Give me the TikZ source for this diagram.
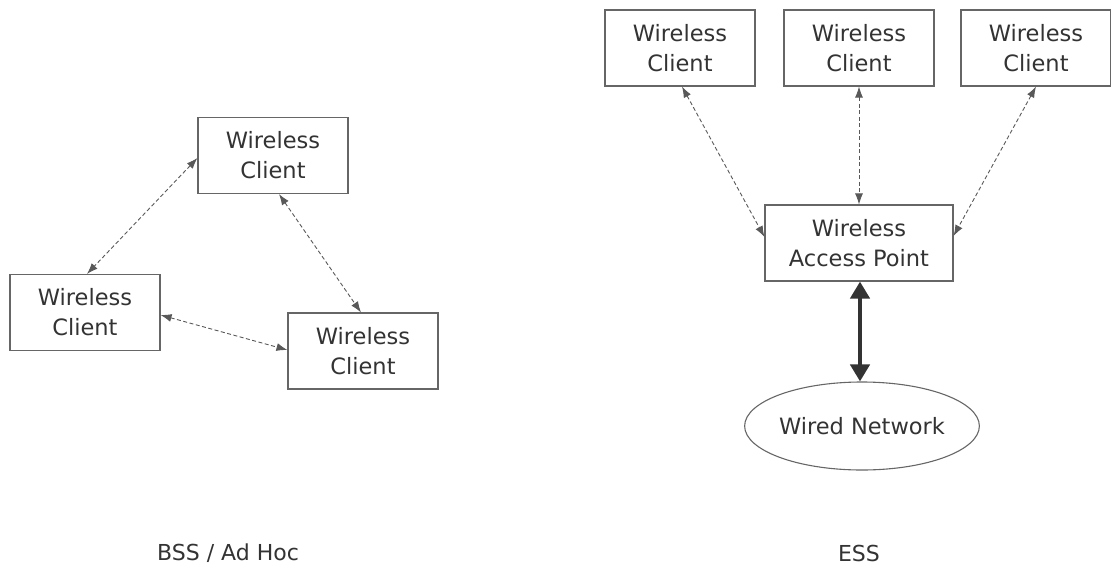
\documentclass[tikz,border=0pt]{standalone}
\usepackage{fontspec}
\setmainfont{DejaVu Sans}
\usetikzlibrary{arrows.meta,shapes.geometric}
\begin{document}
\begin{tikzpicture}[x=1pt,y=-1pt,
  box/.style={draw=black!60,line width=1.1pt,fill=white,minimum width=150pt,minimum height=76pt,
    align=center,font=\fontsize{22.5}{30}\selectfont,text=black!80,inner sep=0pt},
  link/.style={draw=black!65,line width=0.9pt,dash pattern=on 4pt off 2.5pt,
    {Latex[length=11pt,width=8pt]}-{Latex[length=11pt,width=8pt]}},
  wired/.style={draw=black!80,line width=4.5pt,
    {Triangle[length=17pt,width=19pt]}-{Triangle[length=17pt,width=19pt]}},
  caption/.style={font=\fontsize{22}{26}\selectfont,text=black!80}]
\useasboundingbox (0,0) rectangle (1111,570);

% ad hoc group
\node[box] (c1) at (273,155.5) {Wireless\\Client};
\node[box] (c2) at (85,312.5) {Wireless\\Client};
\node[box] (c3) at (363,351) {Wireless\\Client};
\draw[link] (c1.west |- 0,158) -- (c2.north -| 87,0);
\draw[link] (c1.south -| 279,0) -- (c3.north -| 361,0);
\draw[link] (c2.east |- 0,315) -- (c3.west |- 0,350);

% infrastructure group
\node[box] (w1) at (680,48) {Wireless\\Client};
\node[box] (w2) at (859,48) {Wireless\\Client};
\node[box] (w3) at (1036,48) {Wireless\\Client};
\node[box,minimum width=188pt] (ap) at (859,243) {Wireless\\Access Point};
\node[ellipse,draw=black!60,line width=1.1pt,minimum width=231pt,minimum height=88pt,inner sep=0pt,
  font=\fontsize{22.5}{26}\selectfont,text=black!80] (net) at (862,426) {Wired Network};
\draw[link] (w1.south -| 682,0) -- (ap.west |- 0,237);
\draw[link] (w2.south) -- (ap.north);
\draw[link] (w3.south -| 1036,0) -- (ap.east |- 0,236);
\draw[wired] (ap.south -| 860,0) -- (net.north -| 860,0);

% captions
\node[caption] (bss) at (228,553) {BSS / Ad Hoc};
\node[caption] (ess) at (859,553) {ESS};
\end{tikzpicture}
\end{document}
